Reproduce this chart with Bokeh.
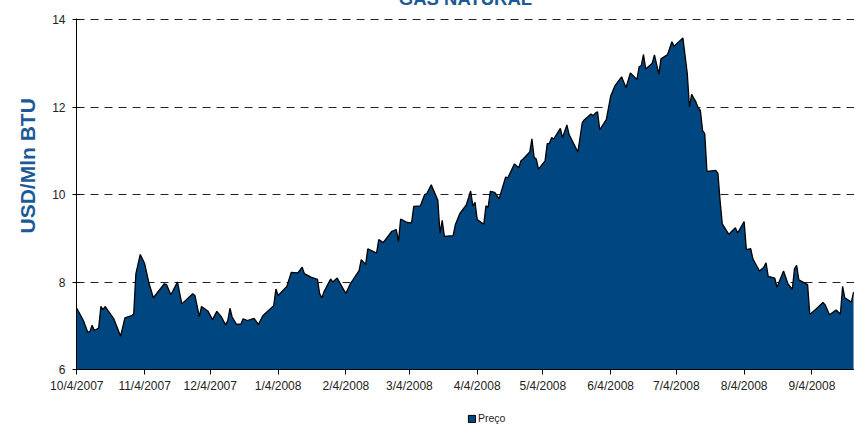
import pandas as pd
from bokeh.plotting import figure
from bokeh.layouts import column
from bokeh.models import (ColumnDataSource, FixedTicker, Range1d, Title,
                          Legend, LegendItem)
from bokeh.embed import file_html
from bokeh.resources import INLINE

# ---------------- data ----------------
start_date = "2007-10-04"
# trading day offsets (days since start_date)
days = [0, 3, 5, 6, 7, 8, 10, 11, 12, 13, 17, 20, 22, 25, 26, 27, 29, 31, 33, 35,
        40, 41, 43, 46, 48, 53, 54, 56, 57, 60, 62, 64, 66, 68, 69, 70, 71, 73, 75, 76,
        78, 81, 83, 85, 90, 91, 92, 96, 98, 101, 103, 104, 107, 110, 111, 112, 113, 116, 117, 119,
        122, 123, 125, 129, 130, 132, 133, 137, 138, 140, 144, 146, 147, 148, 151, 153, 154, 157, 159, 160,
        162, 165, 166, 167, 168, 172, 173, 175, 178, 180, 181, 182, 183, 186, 187, 188, 189, 191, 193, 196,
        197, 200, 202, 203, 204, 207, 208, 209, 210, 211, 214, 215, 216, 217, 218, 221, 222, 224, 225, 229,
        231, 232, 235, 236, 237, 238, 239, 242, 244, 246, 249, 251, 253, 256, 257, 258, 259, 260, 263, 264,
        266, 267, 270, 272, 273, 277, 279, 280, 281, 283, 284, 285, 286, 287, 288, 292, 293, 294, 295, 298,
        301, 302, 305, 306, 308, 309, 312, 314, 315, 316, 319, 320, 323, 325, 327, 328, 329, 330, 334, 335,
        338, 341, 342, 344, 347, 349, 350, 351, 354, 355]
price = [7.40, 7.12, 6.85, 6.87, 7.01, 6.89, 6.95, 7.44, 7.37, 7.44, 7.15, 6.76, 7.18, 7.23, 7.27, 8.19, 8.63, 8.42, 7.97, 7.64,
         7.96, 7.94, 7.71, 8.00, 7.50, 7.73, 7.69, 7.21, 7.44, 7.33, 7.14, 7.33, 7.21, 7.02, 7.12, 7.40, 7.20, 7.03, 7.04, 7.16,
         7.12, 7.17, 7.03, 7.23, 7.46, 7.84, 7.69, 7.90, 8.22, 8.21, 8.34, 8.19, 8.11, 8.06, 7.73, 7.64, 7.78, 8.07, 8.00, 8.09,
         7.82, 7.74, 7.96, 8.26, 8.51, 8.40, 8.76, 8.66, 8.97, 8.90, 9.16, 9.20, 8.93, 9.44, 9.36, 9.35, 9.73, 9.74, 10.00, 10.02,
         10.22, 9.87, 9.11, 9.41, 9.04, 9.06, 9.31, 9.56, 9.76, 10.08, 9.74, 9.82, 9.43, 9.32, 9.74, 9.71, 10.07, 10.05, 9.90, 10.40,
         10.38, 10.70, 10.61, 10.77, 10.81, 10.97, 11.27, 10.85, 10.81, 10.58, 10.77, 11.16, 11.17, 11.30, 11.27, 11.51, 11.30, 11.59, 11.37, 10.97,
         11.64, 11.71, 11.84, 11.80, 11.86, 11.89, 11.48, 11.71, 12.25, 12.49, 12.69, 12.44, 12.78, 12.63, 12.92, 12.95, 13.20, 12.87, 13.00, 13.19,
         12.75, 13.10, 13.20, 13.49, 13.39, 13.58, 12.77, 12.00, 12.29, 12.11, 11.98, 11.92, 11.46, 11.39, 10.53, 10.55, 10.49, 9.86, 9.33, 9.09,
         9.24, 9.12, 9.38, 8.74, 8.76, 8.53, 8.25, 8.34, 8.44, 8.13, 8.09, 7.88, 8.25, 7.96, 7.83, 8.30, 8.38, 8.05, 7.94, 7.26,
         7.39, 7.53, 7.48, 7.25, 7.36, 7.27, 7.90, 7.64, 7.54, 7.77]

tick_dates = ["2007-10-04", "2007-11-04", "2007-12-04", "2008-01-04", "2008-02-04", "2008-03-04",
              "2008-04-04", "2008-05-04", "2008-06-04", "2008-07-04", "2008-08-04", "2008-09-04"]
tick_labels = ["10/4/2007", "11/4/2007", "12/4/2007", "1/4/2008", "2/4/2008", "3/4/2008",
               "4/4/2008", "5/4/2008", "6/4/2008", "7/4/2008", "8/4/2008", "9/4/2008"]
y_ticks = [6, 8, 10, 12, 14]
y_min = 6
series_name = "Preço"
title_text = "GÁS NATURAL"
y_title = "USD/Mln BTU"

# ---------------- derived ----------------
t0 = pd.Timestamp(start_date)
tick_pos = [(pd.Timestamp(d) - t0).days for d in tick_dates]

FONT = "Liberation Sans"
NAVY = "#004680"
BLUE = "#1B5A96"

src = ColumnDataSource(dict(x=days, y=price, base=[y_min] * len(days)))

px_per_day = 2.188
frame_w = 778
frame_h = 351
px_per_unit = 43.75
x_start = -0.14
x_end = x_start + frame_w / px_per_day
y_end = y_min + frame_h / px_per_unit

p = figure(width=854, height=421, output_backend="svg", toolbar_location=None,
           x_range=Range1d(x_start, x_end), y_range=Range1d(y_min, y_end),
           min_border_left=76, min_border_right=0, min_border_top=43, min_border_bottom=27)
p.outline_line_color = None
p.background_fill_color = "white"
p.border_fill_color = "white"

p.varea(x="x", y1="base", y2="y", source=src, fill_color=NAVY)
p.line(x="x", y="y", source=src, line_color="black", line_width=1.3)

# axes
p.xaxis.ticker = FixedTicker(ticks=tick_pos)
p.xaxis.major_label_overrides = {t: l for t, l in zip(tick_pos, tick_labels)}
p.xaxis.minor_tick_line_color = None
p.xaxis.major_tick_in = 0
p.xaxis.major_tick_out = 5
p.xaxis.major_label_standoff = 4
p.xaxis.axis_line_color = "black"
p.xaxis.major_tick_line_color = "black"
p.xaxis.major_label_text_font = FONT
p.xaxis.major_label_text_font_size = "12px"
p.xaxis.major_label_text_color = "#222222"

p.yaxis.ticker = FixedTicker(ticks=y_ticks)
p.yaxis.minor_tick_line_color = None
p.yaxis.major_tick_in = 4
p.yaxis.major_tick_out = 4
p.yaxis.major_label_standoff = 7
p.yaxis.axis_line_color = "black"
p.yaxis.major_tick_line_color = "black"
p.yaxis.major_label_text_font = FONT
p.yaxis.major_label_text_font_size = "12px"
p.yaxis.major_label_text_color = "#222222"

p.xgrid.grid_line_color = None
p.ygrid.ticker = FixedTicker(ticks=y_ticks[1:])
p.ygrid.grid_line_color = "#222222"
p.ygrid.grid_line_dash = "8 6"
p.ygrid.grid_line_width = 1

# chart title (its top is above the visible area, as in the reference)
p.add_layout(Title(text=title_text, align="center", standoff=19,
                   text_font=FONT, text_font_size="18.5px", text_font_style="bold",
                   text_color=BLUE), "above")
# y axis title
p.add_layout(Title(text=y_title, align="left", offset=136, standoff=22,
                   text_font=FONT, text_font_size="21px", text_font_style="bold",
                   text_color=BLUE), "left")

# legend strip below the chart (its frame is aligned with the chart's frame)
lf = figure(width=854, height=29, output_backend="svg", toolbar_location=None,
            x_axis_location=None, y_axis_location=None,
            x_range=Range1d(0, 1), y_range=Range1d(0, 1),
            min_border_left=0, min_border_right=0, min_border_top=0, min_border_bottom=0)
lf.outline_line_color = None
lf.grid.visible = False
sw = lf.quad(left=[-5], right=[-4], bottom=[-5], top=[-4], fill_color=NAVY,
             line_color="black", line_width=1)
legend = Legend(items=[LegendItem(label=series_name, renderers=[sw])],
                location=(391, 1), orientation="horizontal",
                padding=0, margin=0, spacing=0, label_standoff=2,
                glyph_width=9, glyph_height=9, label_height=10,
                label_text_font=FONT, label_text_font_size="10.5px",
                label_text_color="#222222", border_line_color=None,
                background_fill_alpha=0)
lf.add_layout(legend, "center")

page = column(p, lf, spacing=0, margin=(-25, 0, 0, 0))

open("out.html", "w").write(file_html(page, INLINE))
